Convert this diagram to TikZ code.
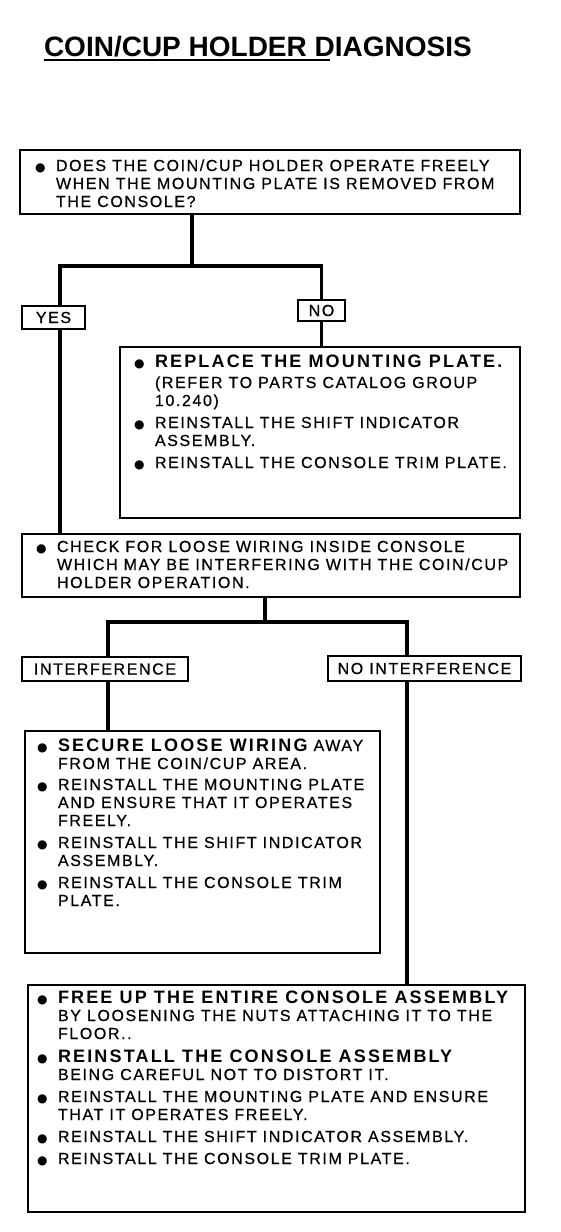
\documentclass[tikz,border=0pt]{standalone}
\usepackage{fontspec}
\setmainfont{Liberation Sans}
\newfontfamily\bodyfont[LetterSpace=10,FakeBold=0.6]{Liberation Sans}
\newfontfamily\keyfont[LetterSpace=12]{Liberation Sans}
\newfontfamily\symfont{DejaVu Sans}
\usepackage{tikz}
\usetikzlibrary{positioning}
\newcommand{\bodytext}{\bodyfont\fontsize{16}{18}\selectfont}
\newcommand{\titletext}{\bfseries\fontsize{28}{30}\selectfont}
\newcommand{\key}[1]{{\keyfont\bfseries\fontsize{18}{18}\selectfont #1}}
\newcommand{\bul}{\makebox[21pt][l]{\symfont\fontsize{12}{12}\selectfont ●}}
\newcommand{\cont}{\hspace*{21pt}}
\newcommand{\firstline}{\rule{0pt}{14pt}}

\begin{document}
\begin{tikzpicture}[
    x=1pt, y=-1pt,
    every node/.style={inner sep=0pt, outer sep=0pt},
    box/.style={draw, line width=1.6pt, anchor=north west},
    answer/.style={draw, line width=1.6pt, font=\bodytext},
    notes/.style={anchor=north west, align=left, font=\bodytext},
    link/.style={line width=3.5pt, line join=miter}
  ]
    \fill[white] (0,0) rectangle (560,1232);
    \useasboundingbox (0,0) rectangle (560,1232);
    % title
    \node[anchor=base west, font=\titletext] (title) at (44,56) {COIN/CUP HOLDER DIAGNOSIS};
    \coordinate (ulend) at (330,60);
    \draw[line width=1.5pt] (title.west |- ulend) -- (ulend);
    % boxes
    \node[box, minimum width=500pt, minimum height=64pt] (ask) at (20,150) {};
    \node[box, minimum width=400pt, minimum height=171pt] (replace) at (120,347) {};
    \node[box, minimum width=498pt, minimum height=63pt] (check) at (22,534) {};
    \node[box, minimum width=355pt, minimum height=222pt] (secure) at (25,731) {};
    \node[box, minimum width=497pt, minimum height=227pt] (freeup) at (28,985) {};
    % answers
    \node[answer, minimum width=63pt, minimum height=23pt] (yes) at (53.5,317.5) {YES};
    \node[answer, minimum width=47pt, minimum height=21pt] (no) at (321.5,310.5) {NO};
    \node[answer, minimum width=166pt, minimum height=24pt] (interf) at (105,669) {INTERFERENCE};
    \node[answer, minimum width=193pt, minimum height=25pt] (nointerf) at (424.5,668.5) {NO INTERFERENCE};
    % texts
    \node[notes] (askt) at ([shift={(15,7)}]ask.north west) {\firstline\bul DOES THE COIN/CUP HOLDER OPERATE FREELY\\
      \cont WHEN THE MOUNTING PLATE IS REMOVED FROM\\
      \cont THE CONSOLE?};
    \node[notes] (replacet) at ([shift={(14,6)}]replace.north west) {\firstline\bul\key{REPLACE THE MOUNTING PLATE.}\\[3pt]
      \cont (REFER TO PARTS CATALOG GROUP\\
      \cont 10.240)\\[4pt]
      \bul REINSTALL THE SHIFT INDICATOR\\
      \cont ASSEMBLY.\\[4pt]
      \bul REINSTALL THE CONSOLE TRIM PLATE.};
    \node[notes] (checkt) at ([shift={(14,4)}]check.north west) {\firstline\bul CHECK FOR LOOSE WIRING INSIDE CONSOLE\\
      \cont WHICH MAY BE INTERFERING WITH THE COIN/CUP\\
      \cont HOLDER OPERATION.};
    \node[notes] (securet) at ([shift={(12,6)}]secure.north west) {\firstline\bul\key{SECURE LOOSE WIRING} AWAY\\
      \cont FROM THE COIN/CUP AREA.\\[3pt]
      \bul REINSTALL THE MOUNTING PLATE\\
      \cont AND ENSURE THAT IT OPERATES\\
      \cont FREELY.\\[4pt]
      \bul REINSTALL THE SHIFT INDICATOR\\
      \cont ASSEMBLY.\\[4pt]
      \bul REINSTALL THE CONSOLE TRIM\\
      \cont PLATE.};
    \node[notes] (freeupt) at ([shift={(9,4)}]freeup.north west) {\firstline\bul\key{FREE UP THE ENTIRE CONSOLE ASSEMBLY}\\
      \cont BY LOOSENING THE NUTS ATTACHING IT TO THE\\
      \cont FLOOR..\\[5pt]
      \bul\key{REINSTALL THE CONSOLE ASSEMBLY}\\
      \cont BEING CAREFUL NOT TO DISTORT IT.\\[4pt]
      \bul REINSTALL THE MOUNTING PLATE AND ENSURE\\
      \cont THAT IT OPERATES FREELY.\\[4pt]
      \bul REINSTALL THE SHIFT INDICATOR ASSEMBLY.\\[4pt]
      \bul REINSTALL THE CONSOLE TRIM PLATE.};
    % connectors
    \coordinate (fork1) at (192,266);
    \coordinate (yesx) at (60,266);
    \draw[link] (ask.south -| fork1) -- (fork1);
    \draw[link] (yesx |- yes.north) -- (yesx) -- (yesx -| no.north) -- (no.north);
    \draw[link] (yesx |- yes.south) -- (yesx |- check.north);
    \draw[link] (no.south) -- (no.south |- replace.north);
    \coordinate (fork2) at (265,622);
    \coordinate (interx) at (108,622);
    \coordinate (nointerx) at (407,622);
    \draw[link] (check.south -| fork2) -- (fork2);
    \draw[link] (interx |- interf.north) -- (interx) -- (nointerx) -- (nointerx |- nointerf.north);
    \draw[link] (interx |- interf.south) -- (interx |- secure.north);
    \draw[link] (nointerx |- nointerf.south) -- (nointerx |- freeup.north);
  \end{tikzpicture}
\end{document}
